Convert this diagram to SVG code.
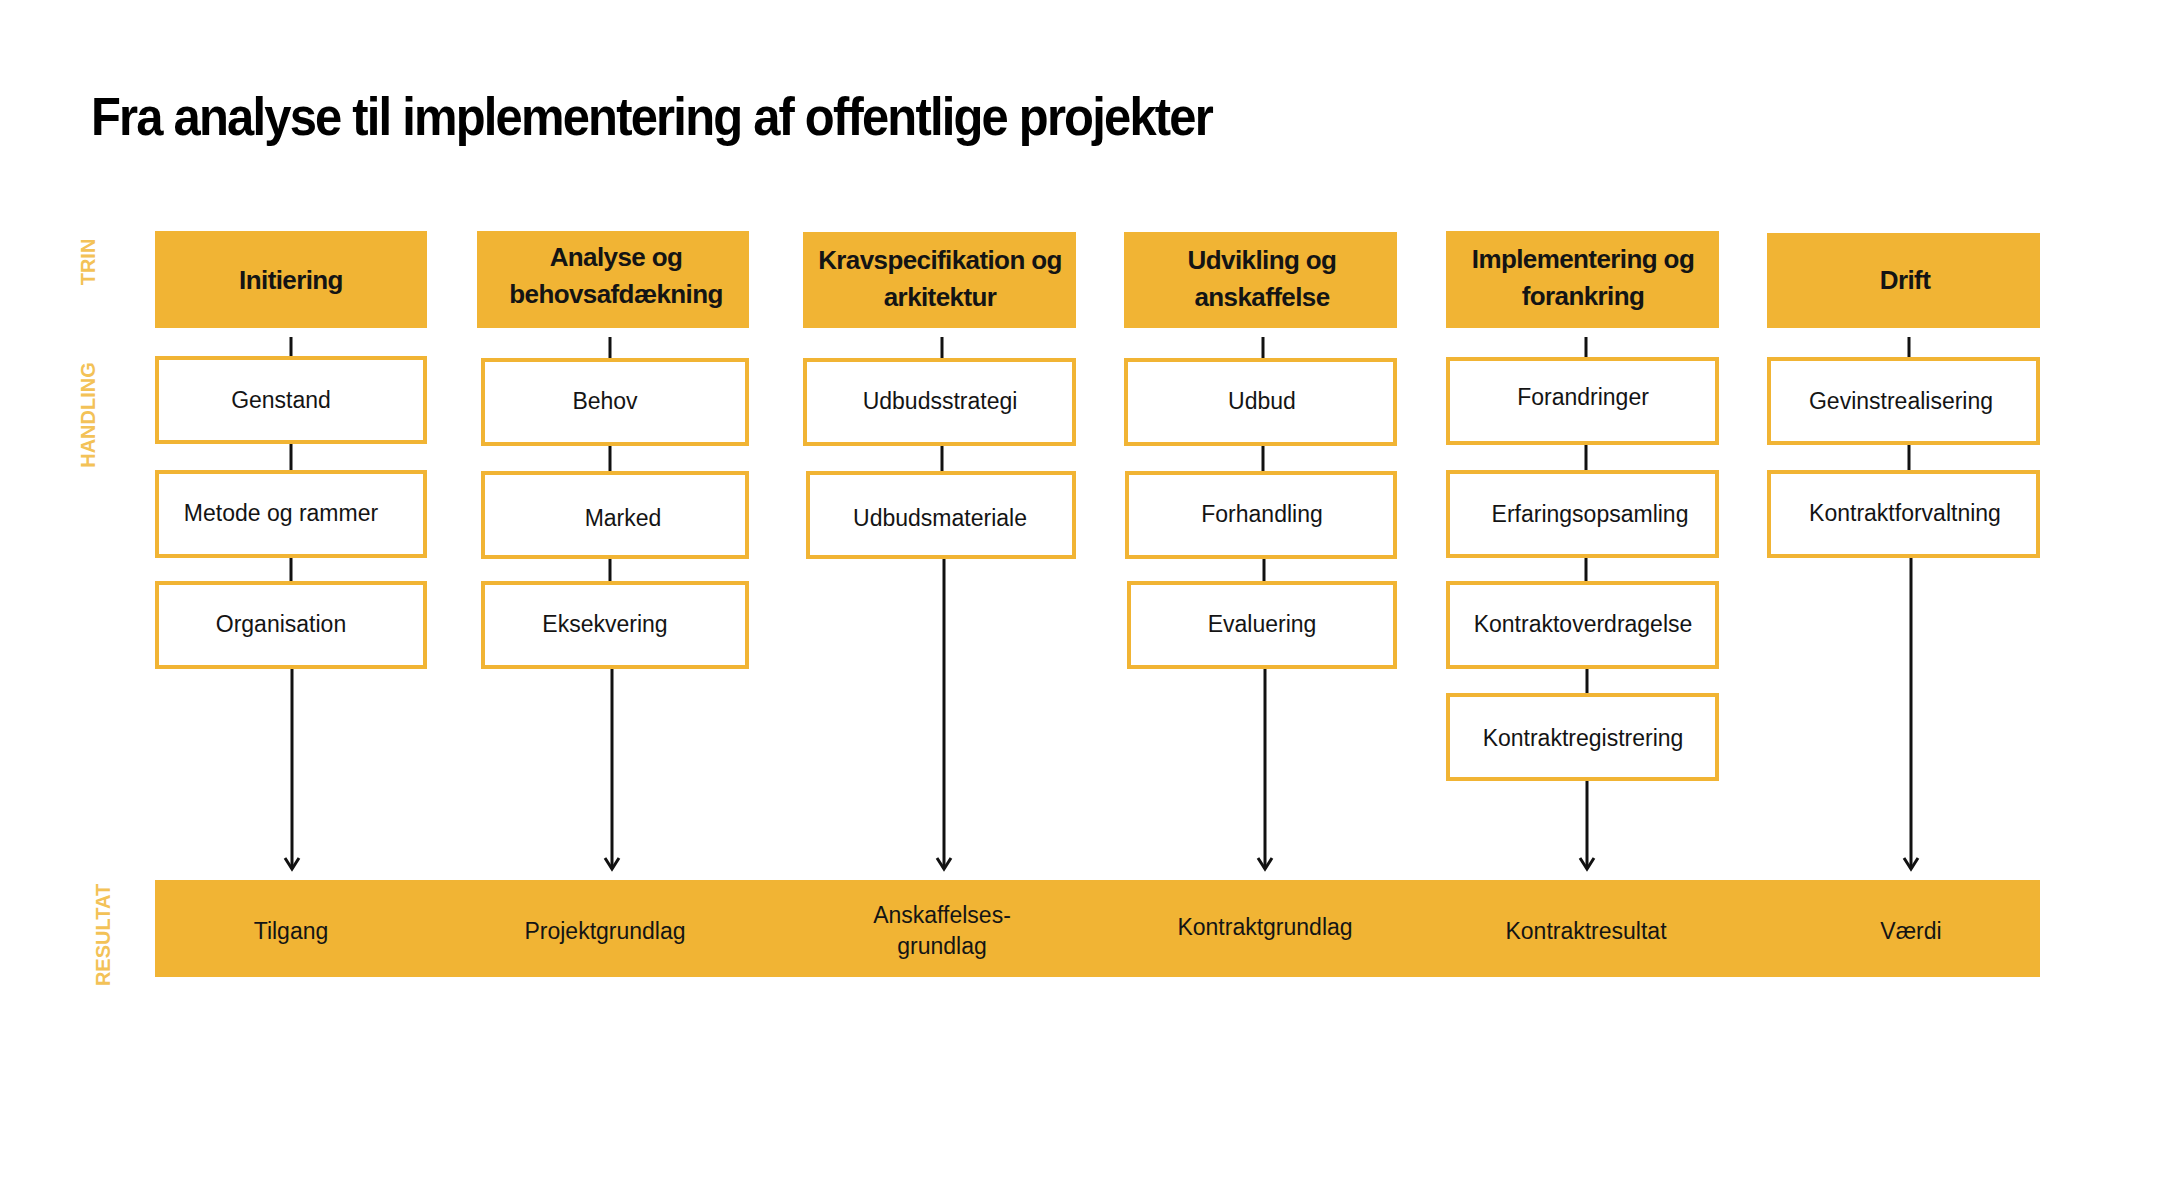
<svg xmlns="http://www.w3.org/2000/svg" width="2160" height="1190" viewBox="0 0 2160 1190">
<style>
.hdr{fill:#F1B434}
.box{fill:#fff;stroke:#F1B434;stroke-width:4}
.ht{font-family:"Liberation Sans",Arial,sans-serif;font-weight:bold;font-size:26px;letter-spacing:-0.6px;fill:#141414;text-anchor:middle}
.at{font-family:"Liberation Sans",Arial,sans-serif;font-size:23px;fill:#141414;text-anchor:middle}
.side{font-family:"Liberation Sans",Arial,sans-serif;font-weight:bold;font-size:20px;fill:#F3C257;text-anchor:middle}
.ln{stroke:#111;stroke-width:3;fill:none}
.ar{stroke:#111;stroke-width:3;fill:none;marker-end:url(#ah)}
</style>
<defs>
<marker id="ah" viewBox="-14 -10 18 20" refX="0" refY="0" markerWidth="18" markerHeight="20" markerUnits="userSpaceOnUse" orient="auto" overflow="visible">
<path d="M-11,-7 L0,0 L-11,7" fill="none" stroke="#111" stroke-width="3"/>
</marker>
</defs>
<rect width="2160" height="1190" fill="#fff"/>
<text x="91" y="135" font-family="Liberation Sans,Arial,sans-serif" font-weight="bold" font-size="54" letter-spacing="-2" fill="#000" textLength="1121" lengthAdjust="spacingAndGlyphs">Fra analyse til implementering af offentlige projekter</text>

<g id="side-labels">
<text class="side" transform="translate(95,262) rotate(-90)">TRIN</text>
<text class="side" transform="translate(95,415) rotate(-90)">HANDLING</text>
<text class="side" transform="translate(110,935) rotate(-90)">RESULTAT</text>
</g>

<g id="connectors">
<line class="ln" x1="291" y1="337" x2="291" y2="357"/>
<line class="ln" x1="291" y1="444" x2="291" y2="471"/>
<line class="ln" x1="291" y1="557" x2="291" y2="581"/>
<line class="ar" x1="292" y1="668" x2="292" y2="869"/>

<line class="ln" x1="610" y1="337" x2="610" y2="359"/>
<line class="ln" x1="610" y1="446" x2="610" y2="472"/>
<line class="ln" x1="610" y1="558" x2="610" y2="582"/>
<line class="ar" x1="612" y1="668" x2="612" y2="869"/>

<line class="ln" x1="942" y1="337" x2="942" y2="359"/>
<line class="ln" x1="942" y1="446" x2="942" y2="472"/>
<line class="ar" x1="944" y1="558" x2="944" y2="869"/>

<line class="ln" x1="1263" y1="337" x2="1263" y2="359"/>
<line class="ln" x1="1263" y1="446" x2="1263" y2="472"/>
<line class="ln" x1="1264" y1="558" x2="1264" y2="582"/>
<line class="ar" x1="1265" y1="668" x2="1265" y2="869"/>

<line class="ln" x1="1586" y1="337" x2="1586" y2="358"/>
<line class="ln" x1="1586" y1="444" x2="1586" y2="471"/>
<line class="ln" x1="1586" y1="557" x2="1586" y2="582"/>
<line class="ln" x1="1587" y1="668" x2="1587" y2="694"/>
<line class="ar" x1="1587" y1="780" x2="1587" y2="869"/>

<line class="ln" x1="1909" y1="337" x2="1909" y2="358"/>
<line class="ln" x1="1909" y1="444" x2="1909" y2="471"/>
<line class="ar" x1="1911" y1="557" x2="1911" y2="869"/>
</g>

<g id="col1">
<g id="h-initiering"><rect class="hdr" x="155" y="231" width="272" height="97"/><text class="ht" x="291" y="289">Initiering</text></g>
<g id="a-genstand"><rect class="box" x="157" y="358" width="268" height="84"/><text class="at" x="281" y="408">Genstand</text></g>
<g id="a-metode"><rect class="box" x="157" y="472" width="268" height="84"/><text class="at" x="281" y="521">Metode og rammer</text></g>
<g id="a-organisation"><rect class="box" x="157" y="583" width="268" height="84"/><text class="at" x="281" y="632">Organisation</text></g>
</g>

<g id="col2">
<g id="h-analyse"><rect class="hdr" x="477" y="231" width="272" height="97"/><text class="ht" x="616" y="266">Analyse og</text><text class="ht" x="616" y="303">behovsafdækning</text></g>
<g id="a-behov"><rect class="box" x="483" y="360" width="264" height="84"/><text class="at" x="605" y="409">Behov</text></g>
<g id="a-marked"><rect class="box" x="483" y="473" width="264" height="84"/><text class="at" x="623" y="526">Marked</text></g>
<g id="a-eksekvering"><rect class="box" x="483" y="583" width="264" height="84"/><text class="at" x="605" y="632">Eksekvering</text></g>
</g>

<g id="col3">
<g id="h-krav"><rect class="hdr" x="803" y="232" width="273" height="96"/><text class="ht" x="940" y="269">Kravspecifikation og</text><text class="ht" x="940" y="306">arkitektur</text></g>
<g id="a-udbudsstrategi"><rect class="box" x="805" y="360" width="269" height="84"/><text class="at" x="940" y="409">Udbudsstrategi</text></g>
<g id="a-udbudsmateriale"><rect class="box" x="808" y="473" width="266" height="84"/><text class="at" x="940" y="526">Udbudsmateriale</text></g>
</g>

<g id="col4">
<g id="h-udvikling"><rect class="hdr" x="1124" y="232" width="273" height="96"/><text class="ht" x="1262" y="269">Udvikling og</text><text class="ht" x="1262" y="306">anskaffelse</text></g>
<g id="a-udbud"><rect class="box" x="1126" y="360" width="269" height="84"/><text class="at" x="1262" y="409">Udbud</text></g>
<g id="a-forhandling"><rect class="box" x="1127" y="473" width="268" height="84"/><text class="at" x="1262" y="522">Forhandling</text></g>
<g id="a-evaluering"><rect class="box" x="1129" y="583" width="266" height="84"/><text class="at" x="1262" y="632">Evaluering</text></g>
</g>

<g id="col5">
<g id="h-implementering"><rect class="hdr" x="1446" y="231" width="273" height="97"/><text class="ht" x="1583" y="268">Implementering og</text><text class="ht" x="1583" y="305">forankring</text></g>
<g id="a-forandringer"><rect class="box" x="1448" y="359" width="269" height="84"/><text class="at" x="1583" y="405">Forandringer</text></g>
<g id="a-erfaring"><rect class="box" x="1448" y="472" width="269" height="84"/><text class="at" x="1590" y="522">Erfaringsopsamling</text></g>
<g id="a-overdragelse"><rect class="box" x="1448" y="583" width="269" height="84"/><text class="at" x="1583" y="632">Kontraktoverdragelse</text></g>
<g id="a-registrering"><rect class="box" x="1448" y="695" width="269" height="84"/><text class="at" x="1583" y="746">Kontraktregistrering</text></g>
</g>

<g id="col6">
<g id="h-drift"><rect class="hdr" x="1767" y="233" width="273" height="95"/><text class="ht" x="1905" y="289">Drift</text></g>
<g id="a-gevinst"><rect class="box" x="1769" y="359" width="269" height="84"/><text class="at" x="1901" y="409">Gevinstrealisering</text></g>
<g id="a-kontraktforvaltning"><rect class="box" x="1769" y="472" width="269" height="84"/><text class="at" x="1905" y="521">Kontraktforvaltning</text></g>
</g>

<g id="resultat">
<rect class="hdr" x="155" y="880" width="1885" height="97"/>
<text class="at" x="291" y="939">Tilgang</text>
<text class="at" x="605" y="939">Projektgrundlag</text>
<text class="at" x="942" y="923">Anskaffelses-</text>
<text class="at" x="942" y="954">grundlag</text>
<text class="at" x="1265" y="935">Kontraktgrundlag</text>
<text class="at" x="1586" y="939">Kontraktresultat</text>
<text class="at" x="1911" y="939">Værdi</text>
</g>
</svg>
